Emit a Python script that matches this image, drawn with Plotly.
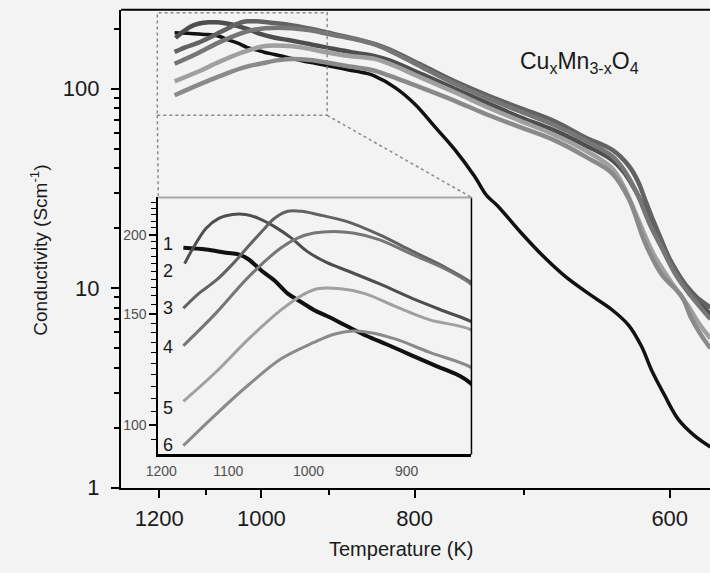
import plotly.graph_objects as go

# ---------------- data (temperature in K, conductivity in S/cm) ----------------
T1 = [1165, 1131, 1103, 1086, 1073, 1056, 1040, 1024, 1009, 994, 979, 958, 938, 919, 895, 875, 855, 845,
      820, 799, 779, 760, 742, 731, 722, 703, 685, 668, 649, 636, 625, 617, 611, 603, 595, 586, 577]
S1 = [190.7, 189.5, 187.3, 186.2, 182.9, 175.4, 169.3, 161.4, 156.7, 152.1, 148.6, 143.3, 138.3, 134.2, 128.8,
      124.3, 119.9, 116.4, 100.8, 83.2, 64.2, 49.5, 36.5, 29.1, 26.0, 19.2, 14.5, 11.4, 9.1, 7.8, 6.5, 5.1,
      3.9, 2.9, 2.2, 1.83, 1.6]

T2 = [1163, 1150, 1131, 1113, 1094, 1077, 1060, 1040, 1020, 1002, 980, 958, 926, 895, 866, 845, 828, 792,
      760, 731, 703, 677, 654, 636, 628, 622, 615, 607, 600, 592, 584, 577]
S2 = [180, 190.7, 204.8, 212.3, 215.3, 215.3, 212.3, 206, 197.7, 188.4, 180.8, 175.4, 167.3, 158.6, 151.2,
      145.9, 139, 118, 100, 85, 72, 62, 52, 44, 38, 32, 25, 18, 13.5, 10.5, 8.6, 7.4]

T3 = [1165, 1142, 1117, 1094, 1073, 1052, 1040, 1024, 1008, 990, 958, 926, 895, 866, 845, 828, 792, 760,
      731, 703, 677, 654, 636, 625, 619, 615, 610, 605, 600, 595, 590, 585, 577]
S3 = [153, 161.4, 169.3, 179.7, 191.8, 204.8, 212.3, 217.8, 217.8, 215.3, 209.7, 200, 188.4, 177.6, 168.3,
      158, 131, 109, 93, 80, 69, 57, 49.5, 41, 34, 28, 22, 17.5, 14, 11.8, 10.2, 9.1, 8]

T4 = [1165, 1117, 1073, 1032, 1012, 994, 972, 952, 926, 895, 866, 845, 828, 792, 760, 731, 703, 677, 654,
      636, 628, 620, 612, 604, 596, 588, 577]
S4 = [133.5, 150.3, 171.4, 190.7, 197.7, 201.2, 202.4, 201.2, 196.5, 186.1, 176.5, 167.3, 156, 128, 106, 90,
      77, 66, 55, 46, 39, 30, 21, 15.5, 11.5, 9.2, 7.0]

T5 = [1165, 1117, 1073, 1032, 1004, 990, 965, 940, 910, 880, 845, 828, 792, 760, 731, 703, 677, 654, 636,
      628, 620, 610, 600, 590, 583, 577]
S5 = [109, 121.3, 136.7, 152.1, 161.4, 164.3, 164.3, 161.4, 153.9, 146.8, 141.6, 134, 113, 96, 81, 69, 59,
      49, 40, 32, 23, 15, 11, 8.3, 6.6, 5.6]

T6 = [1165, 1117, 1073, 1032, 994, 972, 952, 934, 910, 880, 845, 828, 792, 760, 731, 703, 677, 654, 636,
      625, 615, 605, 593, 588, 582, 577]
S6 = [92.8, 104, 115.7, 127.3, 135.1, 139.2, 140.8, 140, 136.7, 130.4, 123.5, 116.6, 100.8, 87, 74.3, 64.2,
      55.4, 45.7, 37.8, 28, 17, 11.8, 9.1, 7.2, 5.8, 5.0]

curve_names = ["1", "2", "3", "4", "5", "6"]
main_x_ticks_T = [1200, 1000, 800, 600]
main_x_minor_T = [1100, 900, 700]
inset_x_ticks_T = [1200, 1100, 1000, 900]
main_y_ticks = [1, 10, 100]
main_y_minor = [2, 3, 4, 5, 6, 7, 8, 9, 20, 30, 40, 50, 60, 70, 80, 90, 200]
inset_y_ticks = [100, 150, 200]
inset_y_minor = [95, 105, 110, 115, 120, 125, 130, 135, 140, 145, 155, 160, 165, 170, 175, 180, 185,
                 190, 195, 205, 210, 215, 220, 225]

series = [(T1, S1), (T2, S2), (T3, S3), (T4, S4), (T5, S5), (T6, S6)]
colors = ["#111111", "#4e4e4e", "#626262", "#767676", "#a0a0a0", "#8a8a8a"]
main_w = [3.5, 4.5, 4.5, 4.5, 4.5, 4.5]
inset_w = [4, 3, 3, 3, 3, 3]

FONT = "Liberation Sans, Arial, sans-serif"
BG = "#f3f3f3"
INK = "#1a1a1a"

def inv(ts):
    return [1000.0 / t for t in ts]

fig = go.Figure()
for (T, S), c, wm, name in zip(series, colors, main_w, curve_names):
    fig.add_trace(go.Scatter(x=inv(T), y=S, mode="lines", line=dict(color=c, width=wm, shape="spline"),
                             xaxis="x", yaxis="y", name=name, showlegend=False, hoverinfo="skip"))
for (T, S), c, wi, name in zip(series, colors, inset_w, curve_names):
    fig.add_trace(go.Scatter(x=inv(T), y=S, mode="lines", line=dict(color=c, width=wi, shape="spline"),
                             xaxis="x2", yaxis="y2", name=name, showlegend=False, hoverinfo="skip"))

# geometry (paper fractions)
W, H = 710, 573
mx0, mx1 = 110 / W, 1.0
my0, my1 = (H - 499) / H, (H - 10) / H
ix0, ix1 = 148 / W, 467 / W
iy0, iy1 = (H - 465) / H, (H - 202) / H

fig.update_layout(
    width=W, height=H,
    margin=dict(l=0, r=0, t=0, b=0),
    paper_bgcolor=BG, plot_bgcolor=BG,
    font=dict(family=FONT, color=INK),
    xaxis=dict(domain=[mx0, mx1], range=[0.7708, 1.7324], anchor="y",
               tickmode="array", tickvals=inv(main_x_ticks_T), ticktext=[str(t) for t in main_x_ticks_T],
               ticks="outside", ticklen=8, tickwidth=2, tickcolor="black",
               minor=dict(tickvals=inv(main_x_minor_T), ticks="outside", ticklen=5, tickwidth=2, tickcolor="black"),
               showline=True, linewidth=2, linecolor="black", showgrid=False, zeroline=False,
               tickfont=dict(size=22, family=FONT, color=INK), ticklabelstandoff=2),
    yaxis=dict(type="log", domain=[my0, my1], range=[0, 2.396], anchor="x",
               tickmode="array", tickvals=main_y_ticks, ticktext=[str(v) for v in main_y_ticks],
               ticks="outside", ticklen=8, tickwidth=2, tickcolor="black",
               minor=dict(tickvals=main_y_minor, ticks="outside", ticklen=5, tickwidth=1.5, tickcolor="black"),
               showline=True, linewidth=2, linecolor="black", showgrid=False, zeroline=False,
               tickfont=dict(size=22, family=FONT, color=INK), ticklabelstandoff=7),
    xaxis2=dict(domain=[ix0, ix1], range=[0.83, 1.1844], anchor="y2",
                tickmode="array", tickvals=inv(inset_x_ticks_T), ticktext=[str(t) for t in inset_x_ticks_T],
                ticks="", showline=True, linewidth=3, linecolor="black", showgrid=False, zeroline=False,
                tickfont=dict(size=14, family=FONT, color="#505050"), ticklabelstandoff=2),
    yaxis2=dict(type="log", domain=[iy0, iy1], range=[1.9535, 2.36], anchor="x2",
                tickmode="array", tickvals=inset_y_ticks, ticktext=[str(v) for v in inset_y_ticks],
                ticks="outside", ticklen=7, tickwidth=1.5, tickcolor="black",
                minor=dict(tickvals=inset_y_minor, ticks="outside", ticklen=5, tickwidth=1.2, tickcolor="black"),
                showline=True, linewidth=2, linecolor="black", showgrid=False, zeroline=False,
                tickfont=dict(size=14, family=FONT, color="#505050"), ticklabelstandoff=0),
)

shapes = [
    # main top border
    dict(type="line", xref="paper", yref="paper", x0=mx0, x1=mx1, y0=my1, y1=my1,
         line=dict(color="black", width=2)),
    # inset right border
    dict(type="line", xref="paper", yref="paper", x0=ix1, x1=ix1, y0=iy0, y1=iy1,
         line=dict(color="black", width=1.5)),
    # inset top border (grey)
    dict(type="line", xref="paper", yref="paper", x0=ix0, x1=ix1, y0=iy1, y1=iy1,
         line=dict(color="#a8a8a8", width=2)),
    # zoom rectangle (dotted)
    dict(type="rect", xref="paper", yref="paper", x0=147 / W, x1=320 / W, y0=(H - 118) / H, y1=(H - 13) / H,
         line=dict(color="#8a8a8a", width=1.5, dash="dot")),
    dict(type="line", xref="paper", yref="paper", x0=147 / W, x1=148 / W, y0=(H - 118) / H, y1=iy1,
         line=dict(color="#8a8a8a", width=1.5, dash="dot")),
    dict(type="line", xref="paper", yref="paper", x0=320 / W, x1=ix1, y0=(H - 118) / H, y1=iy1,
         line=dict(color="#8a8a8a", width=1.5, dash="dot")),
]
fig.update_layout(shapes=shapes)

ann = [
    dict(text="Conductivity (Scm<sup>-1</sup>)", xref="paper", yref="paper", x=27 / W, y=(H - 256) / H,
         textangle=-90, showarrow=False, font=dict(size=19, family=FONT, color=INK),
         xanchor="center", yanchor="middle"),
    dict(text="Temperature (K)", xref="paper", yref="paper", x=396 / W, y=(H - 562) / H,
         showarrow=False, font=dict(size=20, family=FONT, color=INK), xanchor="center", yanchor="middle"),
    dict(text="Cu<sub>x</sub>Mn<sub>3-x</sub>O<sub>4</sub>", xref="paper", yref="paper", x=577 / W,
         y=(H - 64) / H, showarrow=False, font=dict(size=23, family=FONT, color=INK),
         xanchor="center", yanchor="middle"),
]
label_y = [250, 277, 315, 355, 417, 455]
for name, py in zip(curve_names, label_y):
    ann.append(dict(text=name, xref="x2 domain", yref="y2 domain", x=(158 - 148) / 319, y=(465 - py) / 263,
                    showarrow=False, font=dict(size=18, family=FONT, color=INK),
                    xanchor="center", yanchor="middle"))
fig.update_layout(annotations=ann)

fig.write_html("out.html")
